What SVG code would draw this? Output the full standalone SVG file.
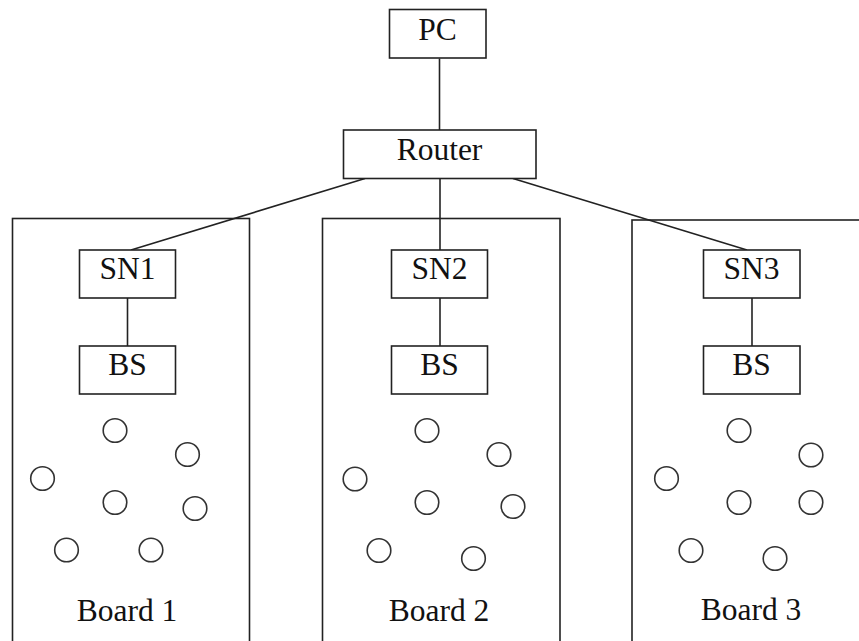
<svg xmlns="http://www.w3.org/2000/svg" width="859" height="641" viewBox="0 0 859 641">
<style>
rect{fill:none;stroke:#222;stroke-width:1.6}
rect.bg{fill:#fff;stroke:none}
.box{fill:#fff}
circle{fill:none;stroke:#333;stroke-width:1.6}
line{stroke:#222;stroke-width:1.6}
text{font-family:"Liberation Serif","Times New Roman",serif;font-size:31.5px;fill:#111;text-anchor:middle}
</style>
<rect class="bg" width="859" height="641"/>
<g id="board1"><rect x="12.5" y="218.5" width="237" height="440"/>
<circle cx="115" cy="430.5" r="11.8"/><circle cx="187.5" cy="454.5" r="11.8"/><circle cx="42.5" cy="478.5" r="11.8"/><circle cx="115" cy="502.5" r="11.8"/><circle cx="195" cy="508.5" r="11.8"/><circle cx="66.5" cy="550" r="11.8"/><circle cx="151" cy="550" r="11.8"/>
<text x="127" y="621">Board 1</text></g>
<g id="board2"><rect x="322.5" y="218.5" width="237.5" height="440"/>
<circle cx="427" cy="430.5" r="11.8"/><circle cx="499" cy="454.5" r="11.8"/><circle cx="355" cy="479" r="11.8"/><circle cx="427" cy="502.5" r="11.8"/><circle cx="513" cy="506.5" r="11.8"/><circle cx="379" cy="550.5" r="11.8"/><circle cx="473.5" cy="558.5" r="11.8"/>
<text x="439" y="621">Board 2</text></g>
<g id="board3"><rect x="632" y="220" width="240" height="440"/>
<circle cx="739" cy="430.5" r="11.8"/><circle cx="811" cy="455" r="11.8"/><circle cx="666.5" cy="478.5" r="11.8"/><circle cx="739" cy="502.5" r="11.8"/><circle cx="811" cy="502.5" r="11.8"/><circle cx="691" cy="550.5" r="11.8"/><circle cx="775" cy="558.5" r="11.8"/>
<text x="751" y="620">Board 3</text></g>
<g id="connectors">
<line x1="439.5" y1="58.5" x2="439.5" y2="130"/>
<line x1="365" y1="178.5" x2="131" y2="250"/>
<line x1="440" y1="178.5" x2="440" y2="250"/>
<line x1="513" y1="178.5" x2="747" y2="250"/>
<line x1="127.5" y1="298" x2="127.5" y2="346"/>
<line x1="440" y1="298" x2="440" y2="346"/>
<line x1="752" y1="298" x2="752" y2="346"/>
</g>
<g id="pc"><rect class="box" x="389.5" y="9.5" width="96.5" height="48.5"/><text x="437.5" y="40">PC</text></g>
<g id="router"><rect class="box" x="343.5" y="130" width="192.5" height="48.5"/><text x="439.5" y="159.5">Router</text></g>
<g id="sn1"><rect class="box" x="79.5" y="250" width="96" height="48"/><text x="127.5" y="279">SN1</text></g>
<g id="bs1"><rect class="box" x="79.5" y="346" width="96" height="48"/><text x="127.5" y="375">BS</text></g>
<g id="sn2"><rect class="box" x="391.5" y="250" width="96" height="48"/><text x="439.5" y="279">SN2</text></g>
<g id="bs2"><rect class="box" x="391.5" y="346" width="96" height="48"/><text x="439.5" y="375">BS</text></g>
<g id="sn3"><rect class="box" x="703.5" y="250" width="96.5" height="48"/><text x="751.5" y="279">SN3</text></g>
<g id="bs3"><rect class="box" x="703.5" y="346" width="96.5" height="48"/><text x="751.5" y="375">BS</text></g>
</svg>
